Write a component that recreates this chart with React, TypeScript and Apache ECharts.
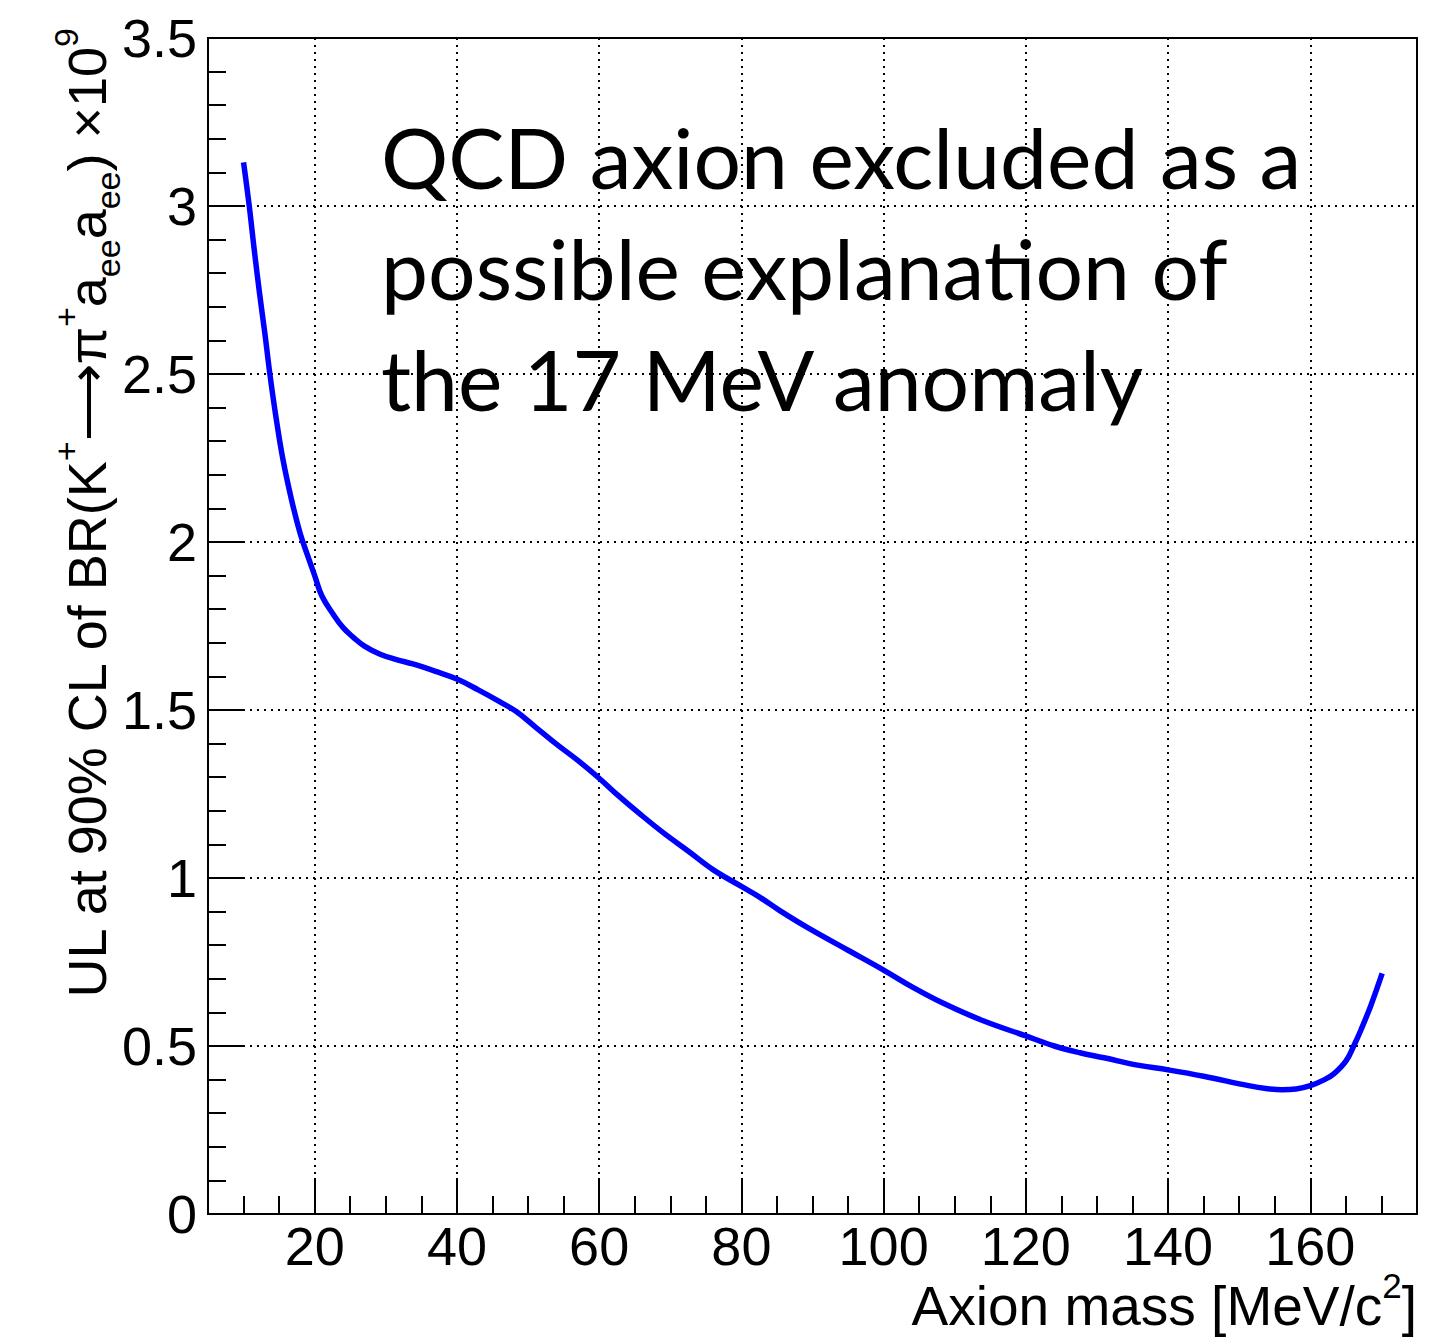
import React, { useEffect, useRef } from "react";
import * as echarts from "echarts";

const massValues = [
  10, 10.8, 11.5, 12.25, 13, 13.7, 14.5, 15.5, 16.7, 17.9,
  19, 20, 21, 22.6, 24, 25.4, 27, 29.2, 31.5, 33.8,
  37, 40, 43, 46, 48.3, 51, 53.9, 57, 60, 62.7,
  65.6, 69, 72.6, 76, 80, 82.5, 85.4, 89.5, 95, 100,
  104, 108.4, 114, 120, 124, 127.6, 131, 135.7, 140, 145,
  151.3, 154, 156, 158, 160, 162, 163.3, 165, 166.1, 167.1,
  168.5, 170.1,
];
const ulValues = [
  3.13, 3.0, 2.87, 2.74, 2.62, 2.5, 2.38, 2.25, 2.13, 2.03,
  1.96, 1.9, 1.84, 1.785, 1.745, 1.717, 1.69, 1.666, 1.65, 1.637,
  1.615, 1.592, 1.56, 1.525, 1.496, 1.45, 1.4, 1.35, 1.297, 1.245,
  1.193, 1.135, 1.079, 1.025, 0.975, 0.944, 0.903, 0.85, 0.785, 0.726,
  0.676, 0.627, 0.575, 0.53, 0.5, 0.48, 0.465, 0.443, 0.429, 0.41,
  0.382, 0.373, 0.37, 0.372, 0.382, 0.4, 0.417, 0.455, 0.5, 0.547,
  0.62, 0.716,
];
const xMajorTicks = [20, 40, 60, 80, 100, 120, 140, 160];
const xMinorTicks = [10, 15, 25, 30, 35, 45, 50, 55, 65, 70, 75, 85, 90, 95, 105, 110, 115, 125, 130, 135, 145, 150, 155, 165, 170];
const annotationLines = [
  "QCD axion excluded as a",
  "possible explanation of",
  "the 17 MeV anomaly",
];
const yTitle =
  "{n|UL at 90% CL of BR(K}{sup|+}{n|⟶π}{sup|+}{n|a}{sub|ee}{n|a}{sub|ee}{n|) ×10}{sup|9}";
const xTitle = "{x|Axion mass [MeV/c}{xsup|2}{x|]}";

const FONT = "'Liberation Sans', Arial, Helvetica, sans-serif";

export default function App() {
  const ref = useRef<HTMLDivElement>(null);
  useEffect(() => {
    const chart = echarts.init(ref.current!, null, { renderer: "svg" });
    const data = massValues.map((m, i) => [m, ulValues[i]]);
    const tickLine = { color: "#000", width: 2 };
    const gridLine = { color: "#000", width: 2, type: [2, 5] };
    const rich = {
      n: { fontSize: 54, fontFamily: FONT, fill: "#000", color: "#000", lineHeight: 76 },
      sup: { fontSize: 34, fontFamily: FONT, fill: "#000", color: "#000", lineHeight: 35, verticalAlign: "top" },
      sub: { fontSize: 34, fontFamily: FONT, fill: "#000", color: "#000", lineHeight: 35, verticalAlign: "bottom" },
      x: { fontSize: 55, fontFamily: FONT, fill: "#000", color: "#000", lineHeight: 76 },
      xsup: { fontSize: 35, fontFamily: FONT, fill: "#000", color: "#000", lineHeight: 36, verticalAlign: "top" },
    };
    chart.setOption({
      animation: false,
      backgroundColor: "#fff",
      grid: {
        left: 208,
        right: 18,
        top: 38,
        bottom: 126,
        show: true,
        borderColor: "#000",
        borderWidth: 2,
        backgroundColor: "transparent",
        containLabel: false,
        outerBoundsMode: "none",
      },
      xAxis: [
        {
          type: "value",
          min: 5,
          max: 175,
          position: "bottom",
          axisLine: { show: true, lineStyle: tickLine },
          axisTick: { show: true, inside: true, length: 36, customValues: xMajorTicks, lineStyle: tickLine },
          axisLabel: { show: true, customValues: xMajorTicks, margin: 5, fontSize: 54, color: "#000", fontFamily: FONT },
          splitLine: { show: true, lineStyle: gridLine },
        },
        {
          type: "value",
          min: 5,
          max: 175,
          position: "bottom",
          axisLine: { show: false },
          axisTick: { show: true, inside: true, length: 18, customValues: xMinorTicks, lineStyle: tickLine },
          axisLabel: { show: false },
          splitLine: { show: false },
        },
      ],
      yAxis: {
        type: "value",
        min: 0,
        max: 3.5,
        interval: 0.5,
        axisLine: { show: true, lineStyle: tickLine },
        axisTick: { show: true, inside: true, length: 36, lineStyle: tickLine },
        minorTick: { show: true, splitNumber: 5, length: 18, lineStyle: tickLine },
        axisLabel: { margin: 11, fontSize: 54, color: "#000", fontFamily: FONT },
        splitLine: { show: true, lineStyle: gridLine },
      },
      series: [
        {
          type: "line",
          data,
          showSymbol: false,
          smooth: 0.4,
          lineStyle: { color: "#0000ff", width: 5.5, join: "round", cap: "butt" },
          itemStyle: { color: "#0000ff" },
        },
      ],
      graphic: [
        {
          type: "text",
          x: 87,
          y: 28,
          rotation: Math.PI / 2,
          style: { text: yTitle, align: "right", verticalAlign: "middle", rich },
        },
        {
          type: "text",
          x: 1417,
          y: 1306,
          style: { text: xTitle, align: "right", verticalAlign: "middle", rich },
        },
        ...annotationLines.map((t, i) => ({
          type: "text",
          x: 381,
          y: 156 + i * 111,
          style: {
            text: t,
            fontSize: 84,
            fontFamily: "Lato, 'Open Sans', sans-serif",
            fill: "#000",
            align: "left",
            verticalAlign: "middle",
          },
        })),
      ],
    });
    return () => chart.dispose();
  }, []);
  return (
    <div
      ref={ref}
      style={{ position: "fixed", left: 0, top: 0, width: 1435, height: 1340, background: "#fff" }}
    />
  );
}
